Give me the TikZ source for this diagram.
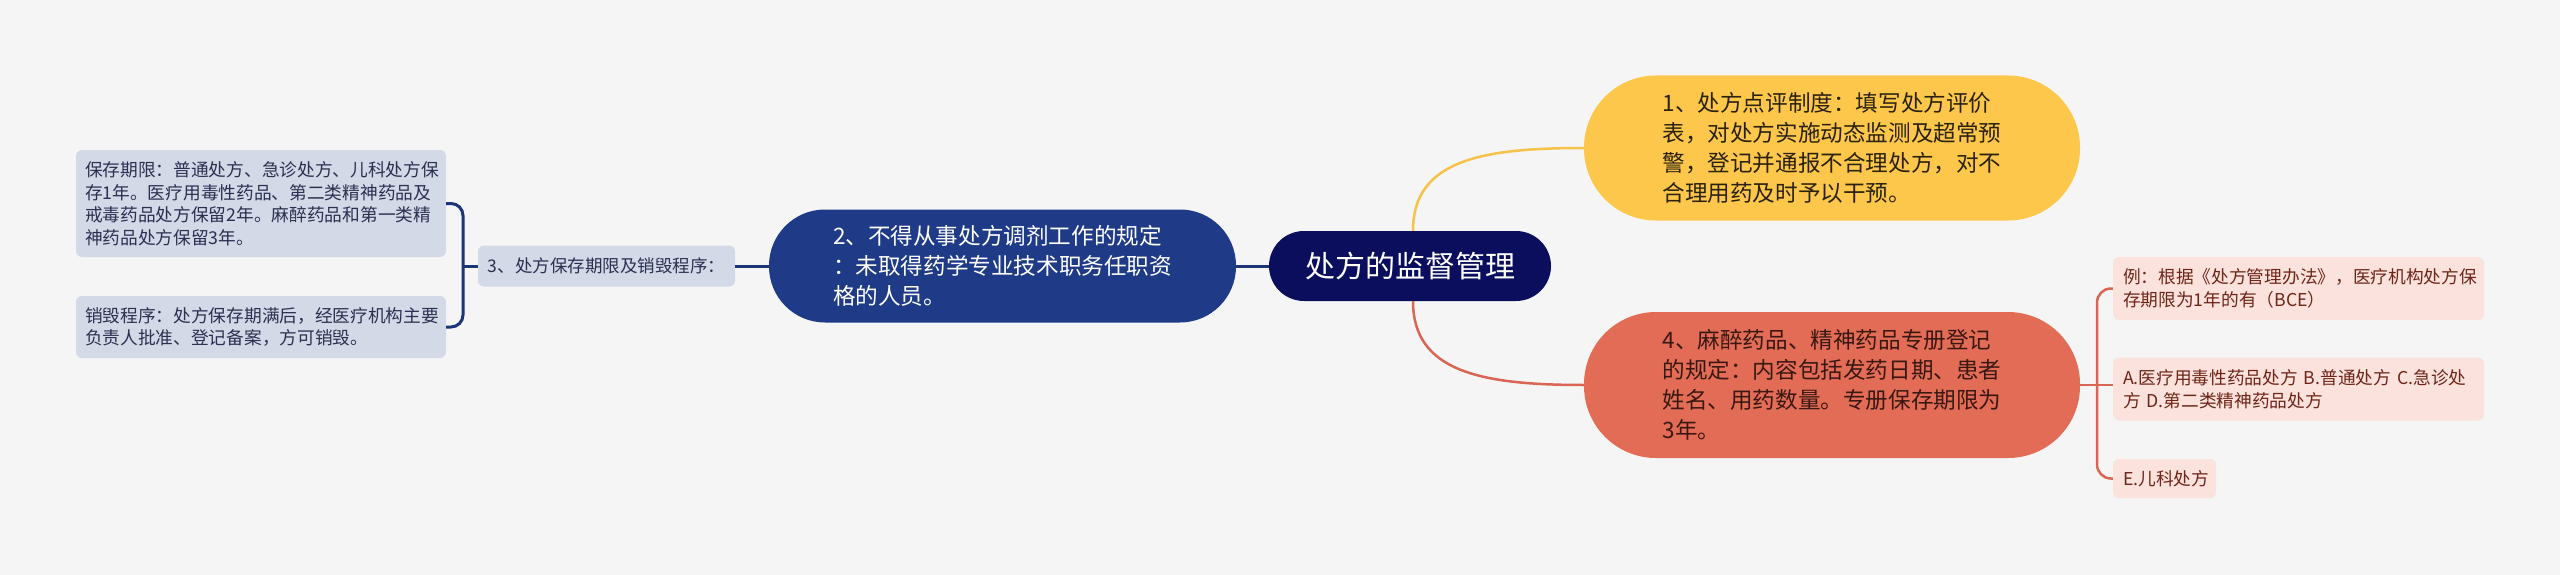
\documentclass[tikz,border=0pt]{standalone}
\usepackage{fontspec}
\setmainfont{Noto Sans CJK SC}
\definecolor{bgc}{HTML}{F5F5F5}
\definecolor{navy}{HTML}{0A0E5C}
\definecolor{bluen}{HTML}{1F3B87}
\definecolor{bluel}{HTML}{1C3478}
\definecolor{yel}{HTML}{FCC74A}
\definecolor{yell}{HTML}{F5C24A}
\definecolor{redn}{HTML}{E36C56}
\definecolor{redl}{HTML}{D86652}
\definecolor{lav}{HTML}{D4D9E8}
\definecolor{pinkl}{HTML}{FBE2DC}
\definecolor{ltxt}{HTML}{2B3050}
\definecolor{rtxt}{HTML}{6E2518}
\definecolor{dtxt}{HTML}{2A2110}
\definecolor{rdtxt}{HTML}{3A1812}
\begin{document}
\begin{tikzpicture}[x=1pt,y=-1pt,
  pill/.style={inner sep=0pt, align=left, font=\fontsize{22.6pt}{30pt}\selectfont},
  leafl/.style={fill=lav, rounded corners=6pt, inner xsep=9pt, inner ysep=0pt, text width=352pt, align=left, text=ltxt, font=\fontsize{17.7pt}{22.5pt}\selectfont},
  leafr/.style={fill=pinkl, rounded corners=6pt, inner xsep=10pt, inner ysep=0pt, align=left, text=rtxt, font=\fontsize{17.7pt}{23pt}\selectfont},
  bline/.style={draw=bluel, line width=3pt},
  yline/.style={draw=yell, line width=2.5pt},
  rline/.style={draw=redl, line width=2.5pt}
]
\fill[bgc] (0,0) rectangle (2560,575);
\useasboundingbox (0,0) rectangle (2560,575);

% center
\node[fill=navy, rounded corners=35pt, minimum width=282pt, minimum height=70pt, inner sep=0pt, text=white, font=\fontsize{30pt}{36pt}\selectfont] (center) at (1410,266) {处方的监督管理};

% yellow
\node[pill, fill=yel, rounded corners=72pt, minimum width=496pt, minimum height=145pt, text=dtxt] (yellow) at (1832,148) {1、处方点评制度：填写处方评价\\表，对处方实施动态监测及超常预\\警，登记并通报不合理处方，对不\\合理用药及时予以干预。};

% red
\node[pill, fill=redn, rounded corners=72pt, minimum width=496pt, minimum height=146pt, text=rdtxt] (red) at (1832,385) {4、麻醉药品、精神药品专册登记\\的规定：内容包括发药日期、患者\\姓名、用药数量。专册保存期限为\\3年。};

% blue
\node[pill, fill=bluen, rounded corners=56pt, minimum width=467pt, minimum height=113pt, text=white] (blue) at (1002.5,266) {2、不得从事处方调剂工作的规定\\：未取得药学专业技术职务任职资\\格的人员。};

% node 3
\node[fill=lav, rounded corners=6pt, minimum width=257pt, minimum height=41pt, inner sep=0pt, text=ltxt, font=\fontsize{17.5pt}{21pt}\selectfont] (n3) at (606.5,266) {3、处方保存期限及销毁程序：};

% left leaves
\node[leafl, minimum height=107pt] (l1) at (261,203.5) {保存期限：普通处方、急诊处方、儿科处方保\\存1年。医疗用毒性药品、第二类精神药品及\\戒毒药品处方保留2年。麻醉药品和第一类精\\神药品处方保留3年。};
\node[leafl, minimum height=62pt] (l2) at (261,327) {销毁程序：处方保存期满后，经医疗机构主要\\负责人批准、登记备案，方可销毁。};

% right leaves
\node[leafr, text width=351pt, minimum height=63pt] (rA) at (2298.5,288.5) {例：根据《处方管理办法》，医疗机构处方保\\存期限为1年的有（BCE）};
\node[leafr, text width=351pt, minimum height=63pt] (rB) at (2298.5,389) {A.医疗用毒性药品处方 B.普通处方 C.急诊处\\方 D.第二类精神药品处方};
\node[leafr, text width=83pt, minimum height=39pt] (rC) at (2164.5,478.5) {E.儿科处方};

% connectors
\draw[bline] (blue.east) -- (center.west);
\draw[bline] (n3.east) -- (blue.west);
\coordinate (bx) at (463,266);
\draw[bline, rounded corners=12pt] (l1.east) -| (bx) |- (l2.east);
\draw[bline] (bx) -- (n3.west);

\draw[yline] ([xshift=3pt]center.north) .. controls ([xshift=3pt,yshift=70pt]center.north) and (1480,148) .. (yellow.west);
\draw[rline] ([xshift=3pt]center.south) .. controls ([xshift=3pt,yshift=-70pt]center.south) and (1480,385) .. (red.west);

\coordinate (rx) at (2097,385);
\draw[rline, rounded corners=14pt] (rA.west) -| (rx) |- (rC.west);
\draw[rline] (red.east) -- (red.east -| rB.west);
\end{tikzpicture}
\end{document}
